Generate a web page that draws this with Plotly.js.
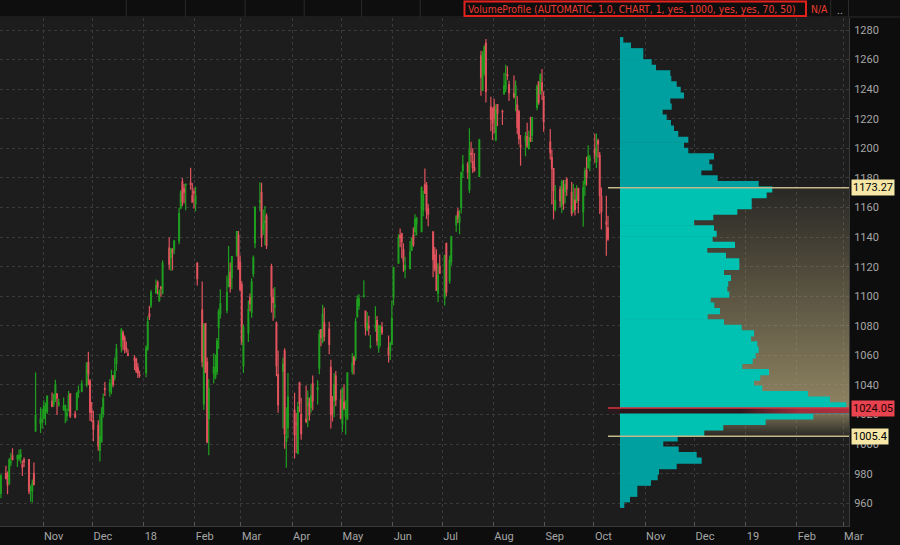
<!DOCTYPE html>
<html><head><meta charset="utf-8">
<script src="https://cdn.plot.ly/plotly-3.0.1.min.js"></script>
<style>html,body{margin:0;padding:0;background:#0d0d0d;}#chart{width:900px;height:545px;}</style>
</head><body><div id="chart"></div>
<script>
// daily candles: [date, open, high, low, close]
const oct17 = [["2017-10-06",966.70,979.46,963.36,978.89],["2017-10-09",980.00,985.43,976.11,977.00],["2017-10-10",980.00,981.57,966.08,972.60],["2017-10-11",973.72,990.71,972.25,989.25],["2017-10-12",987.45,994.12,985.00,987.83],["2017-10-13",992.00,997.21,989.00,989.68],["2017-10-16",990.21,993.00,984.58,992.00],["2017-10-17",990.29,996.44,988.59,992.18],["2017-10-18",991.77,996.72,986.97,992.81],["2017-10-19",986.00,988.88,978.39,984.45],["2017-10-20",989.44,991.00,984.58,988.20],["2017-10-23",989.52,989.52,966.12,968.45],["2017-10-24",970.00,972.23,961.00,970.54],["2017-10-25",968.37,976.09,960.52,973.33],["2017-10-26",980.00,987.60,972.20,972.56],["2017-10-27",1009.19,1048.39,1008.20,1019.27],["2017-10-30",1014.00,1024.97,1007.50,1017.11],["2017-10-31",1015.22,1024.00,1010.42,1016.64]];
const nov17 = [["2017-11-01",1017.21,1029.67,1016.95,1025.50],["2017-11-02",1021.76,1028.09,1013.01,1025.58],["2017-11-03",1022.11,1032.65,1020.31,1032.48],["2017-11-06",1028.99,1034.87,1025.00,1025.90],["2017-11-07",1027.27,1033.97,1025.13,1033.33],["2017-11-08",1030.52,1043.52,1028.45,1039.85],["2017-11-09",1033.99,1033.99,1019.67,1031.26],["2017-11-10",1026.46,1030.76,1025.28,1028.07],["2017-11-13",1023.42,1031.58,1022.57,1025.75],["2017-11-14",1022.59,1026.81,1014.15,1026.00],["2017-11-15",1019.21,1024.09,1015.42,1020.91],["2017-11-16",1022.52,1035.92,1022.52,1032.50],["2017-11-17",1034.01,1034.42,1017.75,1019.09],["2017-11-20",1020.26,1022.61,1017.50,1018.38],["2017-11-21",1023.31,1035.11,1022.66,1034.49],["2017-11-22",1035.00,1039.71,1031.43,1035.96],["2017-11-24",1035.87,1043.18,1035.00,1040.61],["2017-11-27",1040.00,1055.46,1038.44,1054.21],["2017-11-28",1055.09,1062.38,1040.00,1047.41],["2017-11-29",1042.68,1044.08,1015.65,1021.66],["2017-11-30",1022.37,1028.49,1015.00,1021.41]];
const dec17 = [["2017-12-01",1015.80,1022.49,1002.02,1010.17],["2017-12-04",1012.66,1016.10,995.57,998.68],["2017-12-05",995.94,1020.61,988.28,1005.15],["2017-12-06",1001.50,1024.97,1001.14,1018.38],["2017-12-07",1020.43,1034.24,1018.07,1030.93],["2017-12-08",1037.49,1042.05,1032.52,1037.05],["2017-12-11",1035.50,1043.80,1032.05,1041.10],["2017-12-12",1039.63,1050.31,1033.69,1040.48],["2017-12-13",1046.12,1046.67,1038.38,1040.61],["2017-12-14",1045.00,1058.50,1043.11,1049.15],["2017-12-15",1054.61,1067.62,1049.50,1064.19],["2017-12-18",1066.08,1078.49,1062.00,1077.14],["2017-12-19",1075.20,1076.84,1063.55,1070.68],["2017-12-20",1071.78,1073.38,1061.52,1064.95],["2017-12-21",1064.95,1069.33,1061.79,1063.63],["2017-12-22",1061.11,1064.20,1059.44,1060.12],["2017-12-26",1058.07,1060.12,1050.20,1056.74],["2017-12-27",1057.39,1058.37,1048.05,1049.37],["2017-12-28",1051.60,1054.75,1044.77,1048.14],["2017-12-29",1046.72,1049.70,1044.90,1046.40]];
const jan18 = [["2018-01-02",1048.34,1066.94,1045.23,1065.00],["2018-01-03",1064.31,1086.29,1063.21,1082.48],["2018-01-04",1088.00,1093.57,1084.00,1086.40],["2018-01-05",1094.00,1104.25,1092.00,1102.23],["2018-01-08",1102.23,1111.27,1101.62,1106.94],["2018-01-09",1109.40,1110.57,1101.23,1106.26],["2018-01-10",1097.10,1104.60,1096.11,1102.61],["2018-01-11",1106.30,1106.53,1099.59,1105.52],["2018-01-12",1102.41,1124.29,1101.15,1122.26],["2018-01-16",1132.51,1139.91,1117.83,1121.76],["2018-01-17",1126.22,1132.60,1117.01,1131.98],["2018-01-18",1131.41,1132.51,1117.50,1129.79],["2018-01-19",1131.83,1137.86,1128.30,1137.51],["2018-01-22",1137.49,1159.88,1135.11,1155.81],["2018-01-23",1159.85,1171.63,1158.75,1169.97],["2018-01-24",1177.33,1179.86,1161.05,1164.24],["2018-01-25",1172.53,1175.94,1162.76,1170.37],["2018-01-26",1175.08,1175.84,1158.11,1175.84],["2018-01-29",1176.48,1186.89,1171.98,1175.58],["2018-01-30",1167.83,1176.52,1163.52,1163.69],["2018-01-31",1170.57,1173.00,1159.13,1169.94]];
const feb18 = [["2018-02-01",1162.61,1174.00,1157.52,1167.70],["2018-02-02",1122.00,1123.07,1107.28,1111.90],["2018-02-05",1090.60,1110.00,1052.03,1055.80],["2018-02-06",1027.18,1081.71,1023.14,1080.60],["2018-02-07",1081.54,1081.78,1048.26,1048.58],["2018-02-08",1055.41,1058.62,1000.66,1001.52],["2018-02-09",1017.25,1043.97,992.56,1037.78],["2018-02-12",1048.00,1061.50,1040.93,1051.94],["2018-02-13",1045.00,1060.55,1043.86,1052.10],["2018-02-14",1048.95,1071.72,1046.75,1069.70],["2018-02-15",1079.07,1091.48,1064.34,1089.52],["2018-02-16",1088.00,1104.67,1085.00,1094.80],["2018-02-20",1090.57,1113.95,1088.52,1102.46],["2018-02-21",1106.47,1133.97,1106.33,1111.34],["2018-02-22",1116.19,1122.82,1102.59,1106.63],["2018-02-23",1112.64,1127.28,1104.71,1126.79],["2018-02-26",1127.80,1143.96,1126.69,1143.75],["2018-02-27",1141.24,1144.04,1118.00,1118.29],["2018-02-28",1123.03,1127.53,1103.24,1104.73]];
const mar18 = [["2018-03-01",1107.87,1110.12,1067.00,1069.52],["2018-03-02",1053.08,1081.00,1048.12,1078.92],["2018-03-05",1075.14,1097.10,1069.00,1090.93],["2018-03-06",1099.22,1101.85,1089.78,1095.06],["2018-03-07",1089.19,1112.22,1085.48,1109.64],["2018-03-08",1115.32,1127.60,1112.80,1126.00],["2018-03-09",1136.00,1160.80,1132.46,1160.04],["2018-03-12",1163.85,1177.05,1157.42,1164.50],["2018-03-13",1170.00,1176.76,1133.33,1139.91],["2018-03-14",1145.21,1158.59,1141.44,1148.89],["2018-03-15",1149.96,1161.08,1134.54,1150.61],["2018-03-16",1154.14,1155.88,1131.96,1134.42],["2018-03-19",1120.01,1121.99,1089.01,1100.07],["2018-03-20",1099.00,1105.20,1083.46,1095.80],["2018-03-21",1092.74,1106.30,1085.15,1094.00],["2018-03-22",1081.88,1082.90,1045.91,1053.15],["2018-03-23",1047.03,1063.36,1021.22,1026.55],["2018-03-26",1049.42,1058.59,1010.58,1054.09],["2018-03-27",1063.00,1064.84,996.92,1006.94],["2018-03-28",1001.91,1024.99,984.00,1005.18],["2018-03-29",1011.21,1048.05,1004.04,1031.79]];
const apr18 = [["2018-04-02",1022.82,1034.80,990.37,1006.47],["2018-04-03",1013.91,1020.99,994.07,1013.41],["2018-04-04",993.88,1028.72,993.00,1025.14],["2018-04-05",1041.33,1042.11,1021.60,1027.81],["2018-04-06",1020.00,1031.42,1003.03,1007.04],["2018-04-09",1016.80,1039.60,1014.08,1015.45],["2018-04-10",1026.44,1036.28,1011.34,1031.64],["2018-04-11",1027.99,1031.36,1015.87,1019.97],["2018-04-12",1025.04,1040.69,1021.43,1032.51],["2018-04-13",1040.88,1046.42,1022.98,1029.27],["2018-04-16",1037.00,1043.24,1026.74,1037.98],["2018-04-17",1051.37,1077.40,1047.30,1074.16],["2018-04-18",1077.43,1077.43,1066.22,1072.08],["2018-04-19",1069.40,1094.17,1068.18,1087.70],["2018-04-20",1082.00,1092.35,1069.57,1072.96],["2018-04-23",1077.86,1082.72,1060.70,1067.45],["2018-04-24",1052.00,1057.00,1010.59,1019.98],["2018-04-25",1025.52,1032.49,1015.31,1021.18],["2018-04-26",1029.51,1047.98,1018.19,1040.04],["2018-04-27",1046.00,1049.50,1025.59,1030.05],["2018-04-30",1030.01,1037.00,1016.85,1017.33]];
const may18 = [["2018-05-01",1013.66,1038.47,1008.21,1037.31],["2018-05-02",1028.10,1040.39,1022.87,1024.38],["2018-05-03",1019.00,1029.68,1006.29,1023.72],["2018-05-04",1016.90,1048.51,1016.90,1048.21],["2018-05-07",1049.23,1061.68,1047.10,1054.79],["2018-05-08",1058.54,1060.00,1047.14,1053.91],["2018-05-09",1058.10,1085.44,1056.37,1082.76],["2018-05-10",1086.03,1100.44,1085.64,1097.57],["2018-05-11",1093.60,1101.33,1090.91,1098.26],["2018-05-14",1100.00,1110.75,1099.11,1100.20],["2018-05-15",1090.00,1090.00,1073.43,1079.23],["2018-05-16",1077.31,1089.27,1076.26,1081.77],["2018-05-17",1079.89,1086.87,1073.50,1078.59],["2018-05-18",1066.00,1073.73,1064.68,1066.36],["2018-05-21",1079.00,1093.30,1076.00,1079.58],["2018-05-22",1083.56,1086.59,1066.69,1069.73],["2018-05-23",1065.13,1080.78,1061.71,1079.69],["2018-05-24",1079.00,1080.47,1066.15,1079.24],["2018-05-25",1079.02,1082.56,1073.78,1075.66],["2018-05-29",1064.89,1073.37,1055.22,1060.32],["2018-05-30",1063.03,1069.21,1056.83,1067.80],["2018-05-31",1067.56,1097.19,1067.56,1084.99]];
const jun18 = [["2018-06-01",1099.35,1120.00,1093.80,1119.50],["2018-06-04",1122.33,1141.89,1122.01,1139.29],["2018-06-05",1140.99,1145.74,1133.19,1139.66],["2018-06-06",1142.17,1143.00,1125.74,1136.88],["2018-06-07",1131.32,1135.82,1116.52,1123.86],["2018-06-08",1118.18,1126.67,1112.15,1120.87],["2018-06-11",1118.60,1137.26,1118.60,1129.99],["2018-06-12",1131.07,1139.79,1130.74,1139.32],["2018-06-13",1141.12,1146.50,1133.38,1134.79],["2018-06-14",1143.85,1155.47,1140.78,1152.12],["2018-06-15",1148.86,1153.82,1141.09,1152.26],["2018-06-18",1143.65,1174.31,1143.59,1173.46],["2018-06-19",1158.50,1171.27,1154.01,1168.06],["2018-06-20",1175.31,1186.29,1169.16,1169.84],["2018-06-21",1174.85,1177.29,1152.23,1157.66],["2018-06-22",1159.14,1162.50,1147.26,1155.48],["2018-06-25",1143.60,1143.91,1112.78,1124.81],["2018-06-26",1128.00,1133.21,1116.66,1118.46],["2018-06-27",1121.34,1131.84,1103.62,1103.98],["2018-06-28",1102.09,1122.31,1096.01,1114.22],["2018-06-29",1120.00,1128.23,1115.00,1115.65]];
const jul18 = [["2018-07-02",1099.00,1128.00,1093.80,1127.46],["2018-07-03",1135.82,1135.82,1100.02,1102.89],["2018-07-05",1110.53,1127.50,1108.48,1124.27],["2018-07-06",1123.58,1140.93,1120.74,1140.17],["2018-07-09",1148.48,1154.67,1143.42,1154.05],["2018-07-10",1156.98,1159.59,1149.59,1152.84],["2018-07-11",1150.18,1158.36,1141.92,1153.90],["2018-07-12",1159.89,1184.41,1155.94,1183.48],["2018-07-13",1185.00,1195.42,1180.00,1188.82],["2018-07-16",1189.39,1191.00,1179.28,1183.86],["2018-07-17",1172.22,1213.60,1169.86,1198.80],["2018-07-18",1196.56,1204.50,1190.34,1195.88],["2018-07-19",1191.00,1200.00,1183.32,1186.96],["2018-07-20",1186.96,1196.86,1184.22,1184.91],["2018-07-23",1181.01,1206.49,1181.00,1205.50],["2018-07-24",1262.59,1266.00,1235.56,1248.08],["2018-07-25",1239.13,1265.86,1239.13,1263.70],["2018-07-26",1251.00,1269.77,1249.02,1268.33],["2018-07-27",1271.00,1273.89,1231.00,1238.50],["2018-07-30",1228.01,1234.92,1211.47,1219.74],["2018-07-31",1220.01,1227.59,1205.60,1217.26]];
const aug18 = [["2018-08-01",1228.00,1233.47,1210.21,1220.01],["2018-08-02",1205.90,1229.88,1204.79,1226.15],["2018-08-03",1229.62,1230.00,1215.06,1223.71],["2018-08-06",1225.00,1226.09,1215.80,1224.77],["2018-08-07",1237.00,1251.17,1236.17,1242.22],["2018-08-08",1240.47,1256.50,1238.01,1245.61],["2018-08-09",1249.90,1255.54,1246.01,1249.10],["2018-08-10",1243.00,1245.70,1232.00,1237.61],["2018-08-13",1236.98,1249.27,1233.64,1235.01],["2018-08-14",1235.19,1245.87,1225.11,1242.10],["2018-08-15",1229.26,1235.24,1209.51,1214.38],["2018-08-16",1224.73,1226.00,1202.55,1206.49],["2018-08-17",1202.03,1209.02,1188.24,1200.96],["2018-08-20",1205.02,1211.00,1194.63,1207.77],["2018-08-21",1208.00,1217.26,1200.35,1201.62],["2018-08-22",1200.00,1211.84,1199.00,1207.33],["2018-08-23",1207.14,1221.28,1204.24,1205.38],["2018-08-24",1208.82,1221.40,1204.30,1220.65],["2018-08-27",1227.60,1243.09,1225.72,1241.82],["2018-08-28",1245.00,1245.00,1229.45,1231.15],["2018-08-29",1237.00,1250.69,1236.36,1249.30],["2018-08-30",1244.23,1253.64,1232.59,1239.12],["2018-08-31",1234.98,1238.66,1211.29,1218.19]];
const sep18 = [["2018-09-04",1204.27,1212.99,1192.50,1197.00],["2018-09-05",1193.80,1199.01,1162.00,1186.48],["2018-09-06",1186.30,1186.30,1152.00,1171.44],["2018-09-07",1158.67,1175.26,1157.21,1164.83],["2018-09-10",1172.19,1174.54,1160.11,1164.64],["2018-09-11",1161.63,1178.68,1156.24,1177.36],["2018-09-12",1172.72,1178.61,1158.36,1162.82],["2018-09-13",1170.74,1178.61,1162.85,1175.33],["2018-09-14",1179.10,1180.43,1168.00,1172.53],["2018-09-17",1170.14,1177.24,1154.03,1156.05],["2018-09-18",1157.09,1176.08,1157.09,1161.22],["2018-09-19",1164.98,1173.21,1154.58,1158.78],["2018-09-20",1164.99,1174.99,1163.00,1167.84],["2018-09-21",1172.93,1173.00,1156.17,1164.74],["2018-09-24",1157.17,1178.00,1146.91,1173.37],["2018-09-25",1176.15,1186.88,1168.00,1184.65],["2018-09-26",1185.15,1194.23,1174.76,1180.49],["2018-09-27",1186.73,1202.10,1186.73,1194.64],["2018-09-28",1191.87,1195.41,1184.50,1193.47]];
const oct18 = [["2018-10-01",1199.89,1209.90,1190.30,1195.31],["2018-10-02",1190.96,1209.96,1186.63,1200.11],["2018-10-03",1205.00,1206.41,1193.83,1202.95],["2018-10-04",1195.33,1197.51,1155.58,1168.19],["2018-10-05",1167.50,1173.50,1145.12,1157.35],["2018-10-08",1150.11,1168.00,1127.36,1148.97],["2018-10-09",1146.15,1154.35,1137.57,1138.82]];

// volume profile rows (price = row centre, volume = relative)
const profilePrice = [958.97,962.71,966.45,970.19,973.93,977.67,981.41,985.15,988.89,992.63,996.37,1000.11,1003.85,1007.59,1011.33,1015.07,1018.81,1022.55,1026.29,1030.03,1033.77,1037.51,1041.25,1044.99,1048.73,1052.47,1056.21,1059.95,1063.69,1067.43,1071.17,1074.91,1078.65,1082.39,1086.13,1089.87,1093.61,1097.35,1101.09,1104.83,1108.57,1112.31,1116.05,1119.79,1123.53,1127.27,1131.01,1134.75,1138.49,1142.23,1145.97,1149.71,1153.45,1157.19,1160.93,1164.67,1168.41,1172.15,1175.89,1179.63,1183.37,1187.11,1190.85,1194.59,1198.33,1202.07,1205.81,1209.55,1213.29,1217.03,1220.77,1224.51,1228.25,1231.99,1235.73,1239.47,1243.21,1246.95,1250.69,1254.43,1258.17,1261.91,1265.65,1269.39,1273.13];
const profileVolume = [4.3,10,17.3,17.3,31,37.7,39,56.7,81.7,76.7,58.7,43.3,57.7,84.3,103.3,145.7,193.3,229,226.3,210,188,142.3,134,140.3,149,122.3,132.7,135.7,138.7,137.3,131,134,121.7,104,87.7,100,94.3,90.7,109.3,107.3,108.3,111,104,119.3,119.3,106,87.3,115,92.7,96.7,94,74,93.3,117.3,131.7,131.7,146.7,152.3,138.7,97.7,81.3,92.3,89.3,94,68.3,64,68.3,58.3,54,51,46.7,42.7,51.7,50.3,64,60.7,56.7,51.3,50.3,36,31.7,23.3,23.3,11,3.3];
const rowHeight = 3.74;
const vaHigh = 1173.27, vaLow = 1005.4, poc = 1024.05;

const monthTicks = ["2017-11-01","2017-12-01","2018-01-01","2018-02-01","2018-03-01","2018-04-01","2018-05-01","2018-06-01","2018-07-01","2018-08-01","2018-09-01","2018-10-01","2018-11-01","2018-12-01","2019-01-01","2019-02-01","2019-03-01"];
const monthLabels = ["Nov","Dec","18","Feb","Mar","Apr","May","Jun","Jul","Aug","Sep","Oct","Nov","Dec","19","Feb","Mar"];

const rows = [].concat(oct17,nov17,dec17,jan18,feb18,mar18,apr18,may18,jun18,jul18,aug18,sep18,oct18);
const xs = rows.map(r => r[0] + " 12:00");

const maxVol = Math.max(...profileVolume);
const pocLo = profilePrice[profileVolume.indexOf(maxVol)] - rowHeight/2;
const pocHi = pocLo + rowHeight;

const barColors = profilePrice.map(p => (p >= vaLow && p <= vaHigh) ? "#00c2b2" : "#00a0a0");

const traces = [
  {type:"candlestick", x:xs, open:rows.map(r=>r[1]), high:rows.map(r=>r[2]), low:rows.map(r=>r[3]), close:rows.map(r=>r[4]),
   increasing:{line:{color:"#1f9f1f",width:1.2}, fillcolor:"#1f9f1f"},
   decreasing:{line:{color:"#e2535d",width:1.2}, fillcolor:"#e2535d"},
   whiskerwidth:0, hoverinfo:"skip", xaxis:"x", yaxis:"y"},
  // value-area shading (behind profile)
  {type:"scatter", mode:"none", xaxis:"x2", yaxis:"y", hoverinfo:"skip",
   x:[0,maxVol,maxVol,0,0], y:[pocHi,pocHi,vaHigh,vaHigh,pocHi], fill:"toself",
   fillgradient:{type:"vertical", start:pocHi, stop:vaHigh, colorscale:[[0,"rgba(180,165,120,0.75)"],[1,"rgba(180,165,120,0.08)"]]}},
  {type:"scatter", mode:"none", xaxis:"x2", yaxis:"y", hoverinfo:"skip",
   x:[0,maxVol,maxVol,0,0], y:[vaLow,vaLow,pocLo,pocLo,vaLow], fill:"toself",
   fillgradient:{type:"vertical", start:vaLow, stop:pocLo, colorscale:[[0,"rgba(180,165,120,0.08)"],[1,"rgba(180,165,120,0.62)"]]}},
  // profile bars (slight overlap to avoid hairline gaps)
  {type:"bar", orientation:"h", x:profileVolume, y:profilePrice, width:rowHeight + 0.45, base:0,
   marker:{color:barColors, line:{width:0}}, xaxis:"x3", yaxis:"y", hoverinfo:"skip"},
  // POC band
  {type:"scatter", mode:"none", xaxis:"x3", yaxis:"y", hoverinfo:"skip",
   x:[-12,maxVol,maxVol,-12,-12], y:[pocLo,pocLo,pocHi,pocHi,pocLo], fill:"toself",
   fillgradient:{type:"horizontal", start:-12, stop:maxVol, colorscale:[[0,"#2a191c"],[0.55,"#30191e"],[0.8,"#a02d3b"],[1,"#ad313f"]]}},
  {type:"scatter", mode:"lines", xaxis:"x3", yaxis:"y", hoverinfo:"skip", x:[-12,maxVol], y:[pocHi,pocHi], line:{color:"#d9323f",width:1.5}},
  {type:"scatter", mode:"lines", xaxis:"x3", yaxis:"y", hoverinfo:"skip", x:[-12,maxVol], y:[vaHigh,vaHigh], line:{color:"#c4b78a",width:1.5}},
  {type:"scatter", mode:"lines", xaxis:"x3", yaxis:"y", hoverinfo:"skip", x:[-12,maxVol], y:[vaLow,vaLow], line:{color:"#c4b78a",width:1.5}}
];

const W = 849, T = 18, B = 526, H = B - T;
const px = v => v / W;
const py = v => (B - v) / H;

const shapes = [
  {type:"rect", xref:"paper", yref:"paper", x0:0, x1:px(900), y0:py(17), y1:py(0), fillcolor:"#0e0e0e", line:{width:0}, layer:"above"},
  {type:"line", xref:"paper", yref:"paper", x0:0, x1:px(900), y0:py(17), y1:py(17), line:{color:"#2a2a2a", width:1}}
];
[126.3,185.4,245.1,304.2,361.6,420.2,830.7,848.5].forEach(v => shapes.push({type:"line", xref:"paper", yref:"paper", x0:px(v), x1:px(v), y0:py(0), y1:py(17), line:{color:"#2a2a2a", width:1}}));
shapes.push({type:"rect", xref:"paper", yref:"paper", x0:px(464.5), x1:px(806), y0:py(16), y1:py(1.5), line:{color:"#e3221e", width:2}, fillcolor:"rgba(0,0,0,0)"});

const lblFont = {family:"Roboto, sans-serif", size:11, color:"#000"};
const annotations = [
  {xref:"paper", yref:"paper", x:px(466), y:py(9), text:"VolumeProfile (AUTOMATIC, 1.0, CHART, 1, yes, 1000, yes, yes, 70, 50)", showarrow:false,
   font:{family:"Liberation Sans Narrow, DejaVu Sans Condensed, Roboto Condensed, sans-serif", size:10.3, color:"#ee3b31"}, xanchor:"left", yanchor:"middle"},
  {xref:"paper", yref:"paper", x:px(819), y:py(9), text:"N/A", showarrow:false,
   font:{family:"Liberation Sans Narrow, DejaVu Sans Condensed, Roboto, sans-serif", size:10.3, color:"#ee3b31"}, xanchor:"center", yanchor:"middle"},
  {xref:"paper", yref:"paper", x:px(839.5), y:py(10), text:"..", showarrow:false,
   font:{family:"Roboto, sans-serif", size:11, color:"#b0b0b0"}, xanchor:"center", yanchor:"middle"},
  {xref:"paper", yref:"y", x:1, xshift:2, y:vaHigh, text:"1173.27", showarrow:false, xanchor:"left", yanchor:"middle", font:lblFont, bgcolor:"#f6e7a7", borderpad:1},
  {xref:"paper", yref:"y", x:1, xshift:2, y:poc, text:"1024.05", showarrow:false, xanchor:"left", yanchor:"middle", font:{family:"Roboto, sans-serif", size:11, color:"#220000"}, bgcolor:"#e8434f", borderpad:1},
  {xref:"paper", yref:"y", x:1, xshift:2, y:vaLow, text:"1005.4", showarrow:false, xanchor:"left", yanchor:"middle", font:lblFont, bgcolor:"#f6e7a7", borderpad:1}
];

const pxPerUnit = (503.3 - 30) / 320;
const yTop = 1280 + (30 - T) / pxPerUnit;
const yBot = 1280 - (B - 30) / pxPerUnit;

const tickFont = {family:"Roboto, sans-serif", size:11, color:"#a6a6a6"};
const layout = {
  width:900, height:545, margin:{l:0, r:51, t:T, b:545-B, pad:0},
  paper_bgcolor:"#0d0d0d", plot_bgcolor:"#1d1d1d",
  font:{family:"Roboto, sans-serif", size:11, color:"#a6a6a6"},
  showlegend:false, hovermode:false, dragmode:false,
  xaxis:{type:"date", range:["2017-10-05 22:20","2019-03-04 14:40"], tickvals:monthTicks, ticktext:monthLabels,
    ticklabelposition:"outside right", ticks:"inside", ticklen:4, tickcolor:"#555",
    showgrid:true, gridcolor:"#3a3a3a", griddash:"dot", gridwidth:1, showline:true, linecolor:"#3a3a3a",
    rangeslider:{visible:false}, tickfont:tickFont, fixedrange:true},
  xaxis2:{overlaying:"x", range:[-620, W-620], visible:false, fixedrange:true, anchor:"y"},
  xaxis3:{overlaying:"x", range:[-620, W-620], visible:false, fixedrange:true, anchor:"y"},
  yaxis:{side:"right", range:[yBot, yTop], tick0:960, dtick:20, showgrid:true, gridcolor:"#3a3a3a", griddash:"dot", gridwidth:1,
    showline:true, linecolor:"#3a3a3a", ticks:"outside", ticklen:2, tickcolor:"rgba(0,0,0,0)", tickfont:tickFont, zeroline:false, fixedrange:true},
  shapes:shapes, annotations:annotations
};

Plotly.newPlot("chart", traces, layout, {staticPlot:true, displayModeBar:false});
</script>
</body></html>
